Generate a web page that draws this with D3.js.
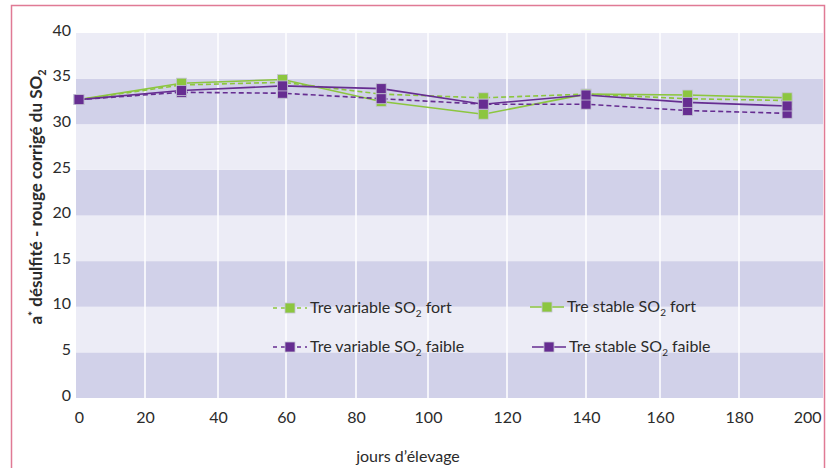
<!DOCTYPE html>
<html>
<head>
<meta charset="utf-8">
<script src="https://cdn.jsdelivr.net/npm/d3@7"></script>
<style>
  html, body { margin: 0; padding: 0; background: #fff; }
  svg { display: block; }
  text { font-family: Lato, "Open Sans", sans-serif; fill: #2b2b2b; }
</style>
</head>
<body>
<svg id="chart" width="839" height="468"></svg>
<script>
// Days of ageing at which each measurement was taken
const days = [0, 30, 59, 87, 114, 140, 167, 193];

// a* values (desulfited red, corrected for SO2), one array per treatment
const varFort   = [32.7, 34.3, 34.6, 33.3, 32.9, 33.3, 32.8, 32.6];
const stabFort  = [32.7, 34.5, 34.9, 32.5, 31.1, 33.3, 33.2, 32.9];
const varFaible = [32.7, 33.5, 33.4, 32.8, 32.2, 32.2, 31.5, 31.2];
const stabFaible= [32.7, 33.7, 34.2, 33.9, 32.2, 33.2, 32.4, 32.0];

const xTicks = [0, 20, 40, 60, 80, 100, 120, 140, 160, 180, 200];
const yTicks = [0, 5, 10, 15, 20, 25, 30, 35, 40];

const green = "#8cc63f", purple = "#662d91";

const series = [
  { name: "Tre variable SO", sub: "2", tail: " fort",   values: varFort,    color: green,  dash: "5,3" },
  { name: "Tre stable SO",   sub: "2", tail: " fort",   values: stabFort,   color: green,  dash: null },
  { name: "Tre variable SO", sub: "2", tail: " faible", values: varFaible,  color: purple, dash: "5,3" },
  { name: "Tre stable SO",   sub: "2", tail: " faible", values: stabFaible, color: purple, dash: null }
];

const svg = d3.select("#chart");
const plot = { left: 76, right: 823, top: 33, bottom: 398 };

// The day axis of the source chart is not evenly spaced, so the scale is piecewise
const x = d3.scaleLinear()
  .domain(xTicks)
  .range([79, 145, 218, 286, 356, 428, 507, 586, 660, 739, 813]);
const y = d3.scaleLinear().domain([0, 40]).range([plot.bottom, plot.top]);

// Outer frame
svg.append("rect")
  .attr("x", 11.5).attr("y", 5.5).attr("width", 813).attr("height", 480)
  .attr("fill", "none").attr("stroke", "#e07a95").attr("stroke-width", 1.5);

// Alternating horizontal bands
const bands = d3.pairs(yTicks);
svg.append("g").selectAll("rect").data(bands).join("rect")
  .attr("x", plot.left).attr("width", plot.right - plot.left)
  .attr("y", d => y(d[1])).attr("height", d => y(d[0]) - y(d[1]))
  .attr("fill", (d, i) => i % 2 === 0 ? "#d1d1e9" : "#ececf6");

// Vertical white gridlines
svg.append("g").selectAll("line").data(xTicks.slice(1, -1)).join("line")
  .attr("x1", d => x(d)).attr("x2", d => x(d))
  .attr("y1", plot.top).attr("y2", plot.bottom)
  .attr("stroke", "#fff").attr("stroke-width", 1.5);

// Y axis labels
const yAxis = d3.axisLeft(y).tickValues(yTicks).tickSize(0).tickPadding(0);
const gy = svg.append("g").attr("transform", `translate(71,-3)`).call(yAxis);
gy.select(".domain").remove();
gy.selectAll("text").style("font-size", "16px").attr("fill", "#2b2b2b")
  .style("font-family", "Lato, sans-serif");

// X axis labels
const xAxis = d3.axisBottom(x).tickValues(xTicks).tickSize(0).tickPadding(0);
const gx = svg.append("g").attr("transform", `translate(0,${plot.bottom + 14})`).call(xAxis);
gx.select(".domain").remove();
gx.selectAll("text").style("font-size", "16px").attr("fill", "#2b2b2b")
  .style("font-family", "Lato, sans-serif");
gx.selectAll("text").filter(d => d === 200).attr("text-anchor", "end").attr("x", 8);

// Axis titles
svg.append("text")
  .attr("x", 408).attr("y", 462).attr("text-anchor", "middle")
  .style("font-size", "16px").text("jours d’élevage");

const yTitle = svg.append("text")
  .attr("transform", "translate(42,197) rotate(-90)")
  .attr("text-anchor", "middle")
  .style("font-size", "17px").style("font-weight", "bold");
yTitle.append("tspan").text("a");
yTitle.append("tspan").attr("dy", -5).style("font-size", "12px").text("*");
yTitle.append("tspan").attr("dy", 5).text(" désulfité - rouge corrigé du SO");
yTitle.append("tspan").attr("dy", 4).style("font-size", "11px").text("2");

// Lines and square markers
const line = d3.line().x((d, i) => x(days[i])).y(d => y(d));
const ms = 10;
series.forEach(s => {
  const g = svg.append("g");
  g.append("path").datum(s.values)
    .attr("d", line).attr("fill", "none")
    .attr("stroke", s.color).attr("stroke-width", 1.6)
    .attr("stroke-dasharray", s.dash);
  g.selectAll("rect").data(s.values).join("rect")
    .attr("x", (d, i) => x(days[i]) - ms / 2)
    .attr("y", d => y(d) - ms / 2)
    .attr("width", ms).attr("height", ms)
    .attr("fill", s.color)
    .attr("stroke", "#c4c4d4").attr("stroke-width", 0.8);
});

// Legend (two columns, two rows)
const legendPos = [
  { lx: 273, ly: 308 }, { lx: 530, ly: 307 },
  { lx: 273, ly: 347 }, { lx: 532, ly: 347 }
];
series.forEach((s, i) => {
  const p = legendPos[i];
  const g = svg.append("g").attr("transform", `translate(${p.lx},${p.ly})`);
  g.append("line").attr("x1", 0).attr("x2", 34).attr("y1", 0).attr("y2", 0)
    .attr("stroke", s.color).attr("stroke-width", 1.6)
    .attr("stroke-dasharray", s.dash ? "4,4" : null);
  g.append("rect").attr("x", 12).attr("y", -5).attr("width", ms).attr("height", ms)
    .attr("fill", s.color).attr("stroke", "#c4c4d4").attr("stroke-width", 0.8);
  const t = g.append("text").attr("x", 37).attr("y", 5).style("font-size", "16px");
  t.append("tspan").text(s.name);
  t.append("tspan").attr("dy", 4).style("font-size", "10px").text(s.sub);
  t.append("tspan").attr("dy", -4).text(s.tail);
});
</script>
</body>
</html>
